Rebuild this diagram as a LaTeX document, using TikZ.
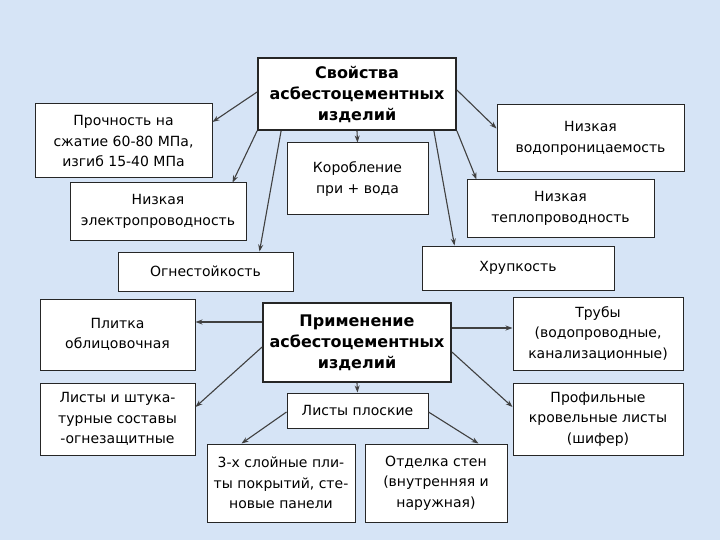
\documentclass[tikz,border=0pt]{standalone}
\usepackage{fontspec}
\usetikzlibrary{arrows.meta}
\setmainfont{DejaVu Sans}
\definecolor{bgc}{RGB}{214,228,246}
\begin{document}
\begin{tikzpicture}[x=1pt,y=-1pt,
  bx/.style={draw=black!85,fill=white,line width=1pt,align=center,inner sep=1pt,font=\fontsize{14}{20.5}\selectfont},
  mainbx/.style={bx,line width=1.8pt,font=\fontsize{16}{21}\selectfont\bfseries},
  ar/.style={-{Stealth[length=7pt,width=5pt]},line width=1.1pt,draw=black!75}]
\fill[bgc] (0,0) rectangle (720,540);
\useasboundingbox (0,0) rectangle (720,540);
\node[mainbx,minimum width=198,minimum height=72] (svo) at (357,94) {Свойства\\асбестоцементных\\изделий};
\node[bx,minimum width=177,minimum height=74] (pro) at (123.5,141) {Прочность на\\сжатие 60-80 МПа,\\изгиб 15-40 МПа};
\node[bx,minimum width=176,minimum height=57] (ele) at (158,211.5) {Низкая\\электропроводность};
\node[bx,minimum width=141,minimum height=72] (kor) at (357.5,179) {Коробление\\при + вода};
\node[bx,minimum width=187,minimum height=67] (vod) at (590.5,138.5) {Низкая\\водопроницаемость};
\node[bx,minimum width=187,minimum height=57] (tep) at (560.5,208.5) {Низкая\\теплопроводность};
\node[bx,minimum width=175,minimum height=39] (ogn) at (205.5,271.5) {Огнестойкость};
\node[bx,minimum width=192,minimum height=44] (khr) at (518,268) {Хрупкость};
\node[bx,minimum width=155,minimum height=71] (plt) at (117.5,334.5) {Плитка\\облицовочная};
\node[mainbx,minimum width=188,minimum height=79] (prim) at (357,342.5) {Применение\\асбестоцементных\\изделий};
\node[bx,minimum width=170,minimum height=73] (trb) at (598,333.5) {Трубы\\(водопроводные,\\канализационные)};
\node[bx,minimum width=155,minimum height=72] (lsh) at (117.5,419) {Листы и штука-\\турные составы\\-огнезащитные};
\node[bx,minimum width=141,minimum height=35] (lpl) at (357.5,410.5) {Листы плоские};
\node[bx,minimum width=170,minimum height=72] (prf) at (598,419) {Профильные\\кровельные листы\\(шифер)};
\node[bx,minimum width=148,minimum height=78] (x3) at (281,483) {3-х слойные пли-\\ты покрытий, сте-\\новые панели};
\node[bx,minimum width=142,minimum height=78] (otd) at (436,483) {Отделка стен\\(внутренняя и\\наружная)};
\draw[ar] ([yshift=2pt]svo.west) -- ([yshift=19pt]pro.east);
\draw[ar] (svo.south west) -- ([xshift=-14pt]ele.north east);
\draw[ar] ([xshift=24pt]svo.south west) -- ([xshift=-34pt]ogn.north east);
\draw[ar] (svo.south) -- (kor.north);
\draw[ar] ([xshift=-23pt]svo.south east) -- ([xshift=33pt]khr.north west);
\draw[ar] (svo.south east) -- ([xshift=10pt]tep.north west);
\draw[ar] ([yshift=4pt]svo.east) -- ([yshift=10pt]vod.west);
\draw[ar] ([yshift=20.5pt]prim.west) -- ([yshift=12.5pt]plt.east);
\draw[ar] ([yshift=-4.5pt]prim.west) -- ([yshift=12pt]lsh.east);
\draw[ar] (prim.south) -- (lpl.north);
\draw[ar] ([yshift=14.5pt]prim.east) -- ([yshift=5.5pt]trb.west);
\draw[ar] ([yshift=-9.5pt]prim.east) -- ([yshift=12pt]prf.west);
\draw[ar] ([yshift=-1.5pt]lpl.west) -- ([xshift=35pt]x3.north west);
\draw[ar] ([yshift=-1.5pt]lpl.east) -- ([xshift=-29pt]otd.north east);
\end{tikzpicture}
\end{document}
